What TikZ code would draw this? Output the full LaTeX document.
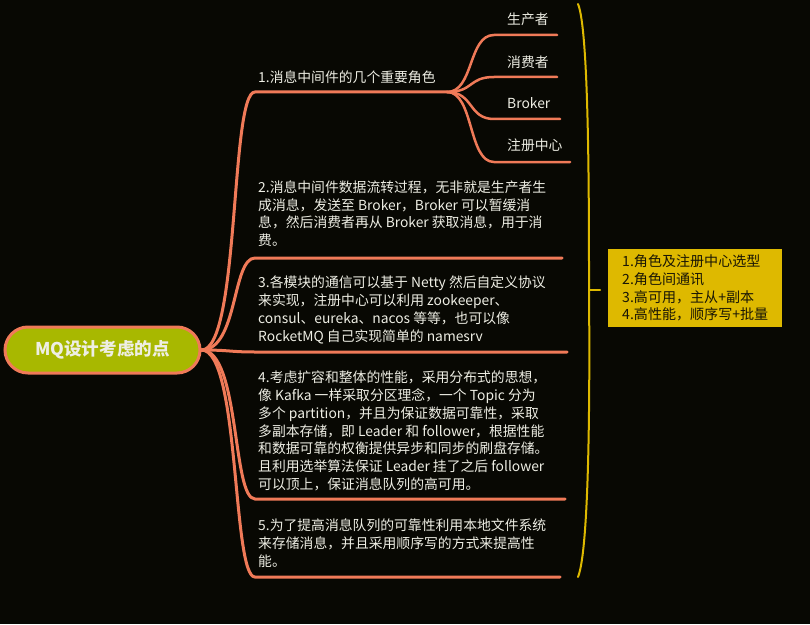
\documentclass[tikz,border=0pt]{standalone}
\usepackage{fontspec}
\setmainfont{Noto Sans CJK SC}
\usepackage{tikz}
\usetikzlibrary{positioning, calc}
\definecolor{bgdark}{RGB}{8, 8, 3}
\definecolor{branchorange}{RGB}{240, 122, 88}
\definecolor{rootgreen}{RGB}{168, 184, 0}
\definecolor{sumyellow}{RGB}{222, 185, 0}
\definecolor{inkwhite}{RGB}{238, 238, 228}
\definecolor{inkdark}{RGB}{25, 22, 5}

\begin{document}
\begin{tikzpicture}[
    x=0.3mm, y=-0.3mm,
    every node/.style={font=\fontsize{11.8}{15.1}\selectfont, text=inkwhite},
    rootbox/.style={
        rectangle,
        rounded corners=6.9mm,
        draw=branchorange,
        line width=0.9mm,
        fill=rootgreen,
        minimum width=58.5mm,
        minimum height=13.8mm,
        font=\fontsize{15}{17}\selectfont\bfseries
    },
    topic/.style={anchor=west, inner sep=0pt},
    detail/.style={anchor=north west, inner sep=0pt, align=left},
    sumbox/.style={
        rectangle,
        fill=sumyellow,
        text=inkdark,
        anchor=west,
        text width=43.8mm,
        align=left,
        inner xsep=4.2mm,
        inner ysep=1.8mm,
        font=\fontsize{12}{15.1}\selectfont
    },
    branch/.style={draw=branchorange, line width=0.9mm, line cap=round},
    twig/.style={draw=branchorange, line width=0.75mm, line cap=round},
    bracket/.style={draw=sumyellow, line width=0.6mm, line cap=round}
]

\fill[bgdark] (0,0) rectangle (810,624);
\useasboundingbox (0,0) rectangle (810,624);

% ==================== ROOT ====================
\node (root) [rootbox] at (102.5,350) {MQ设计考虑的点};

% ==================== BRANCH 1: ROLES ====================
\node (b1) [topic] at (258,77) {1.消息中间件的几个重要角色};
\coordinate (b1_l) at (255,92);
\coordinate (b1_r) at (447,92);
\draw [branch] (root.east) .. controls (240,350) and (230,92) .. (b1_l) -- (b1_r);

\node (c1) [topic] at (507,19) {生产者};
\node (c2) [topic] at (507,62) {消费者};
\node (c3) [topic] at (507,103) {Broker};
\node (c4) [topic] at (507,145) {注册中心};
\coordinate (c1_l) at (494,35);  \coordinate (c1_r) at (557,35);
\coordinate (c2_l) at (494,77);  \coordinate (c2_r) at (557,77);
\coordinate (c3_l) at (494,119); \coordinate (c3_r) at (560,119);
\coordinate (c4_l) at (494,162); \coordinate (c4_r) at (570,162);
\draw [twig] (b1_r) .. controls (474,92) and (468,35) .. (c1_l) -- (c1_r);
\draw [twig] (b1_r) .. controls (474,92) and (468,77) .. (c2_l) -- (c2_r);
\draw [twig] (b1_r) .. controls (474,92) and (468,119) .. (c3_l) -- (c3_r);
\draw [twig] (b1_r) .. controls (474,92) and (468,162) .. (c4_l) -- (c4_r);

% ==================== BRANCH 2..5: DETAILS ====================
\node (b2) [detail] at (258,180.5) {2.消息中间件数据流转过程，无非就是生产者生\\成消息，发送至 Broker，Broker 可以暂缓消\\息，然后消费者再从 Broker 获取消息，用于消\\费。};
\coordinate (b2_l) at (255,258);
\coordinate (b2_r) at (562,258);
\draw [branch] (root.east) .. controls (238,350) and (232,258) .. (b2_l) -- (b2_r);

\node (b3) [detail] at (258,276) {3.各模块的通信可以基于 Netty 然后自定义协议\\来实现，注册中心可以利用 zookeeper、\\consul、eureka、nacos 等等，也可以像\\RocketMQ 自己实现简单的 namesrv};
\coordinate (b3_l) at (255,352);
\coordinate (b3_r) at (567,352);
\draw [branch] (root.east) .. controls (230,350) and (230,352) .. (b3_l) -- (b3_r);

\node (b4) [detail] at (258,371) {4.考虑扩容和整体的性能，采用分布式的思想，\\像 Kafka 一样采取分区理念，一个 Topic 分为\\多个 partition，并且为保证数据可靠性，采取\\多副本存储，即 Leader 和 follower，根据性能\\和数据可靠的权衡提供异步和同步的刷盘存储。\\且利用选举算法保证 Leader 挂了之后 follower\\可以顶上，保证消息队列的高可用。};
\coordinate (b4_l) at (255,499);
\coordinate (b4_r) at (565,499);
\draw [branch] (root.east) .. controls (240,350) and (232,499) .. (b4_l) -- (b4_r);

\node (b5) [detail] at (258,519) {5.为了提高消息队列的可靠性利用本地文件系统\\来存储消息，并且采用顺序写的方式来提高性\\能。};
\coordinate (b5_l) at (255,577);
\coordinate (b5_r) at (560,577);
\draw [branch] (root.east) .. controls (240,350) and (232,577) .. (b5_l) -- (b5_r);

% ==================== SUMMARY ====================
\coordinate (brk_top) at (578,4);
\coordinate (brk_mid) at (589,290);
\coordinate (brk_bot) at (578,577);
\coordinate (brk_tick) at (600,290);
\draw [bracket] (brk_top) .. controls (589,30) and (589,200) .. (brk_mid) .. controls (590,400) and (589,550) .. (brk_bot);
\draw [bracket] (brk_mid) -- (brk_tick);

\node (summary) [sumbox] at (608,288) {1.角色及注册中心选型\\2.角色间通讯\\3.高可用，主从+副本\\4.高性能，顺序写+批量};

\end{tikzpicture}
\end{document}
